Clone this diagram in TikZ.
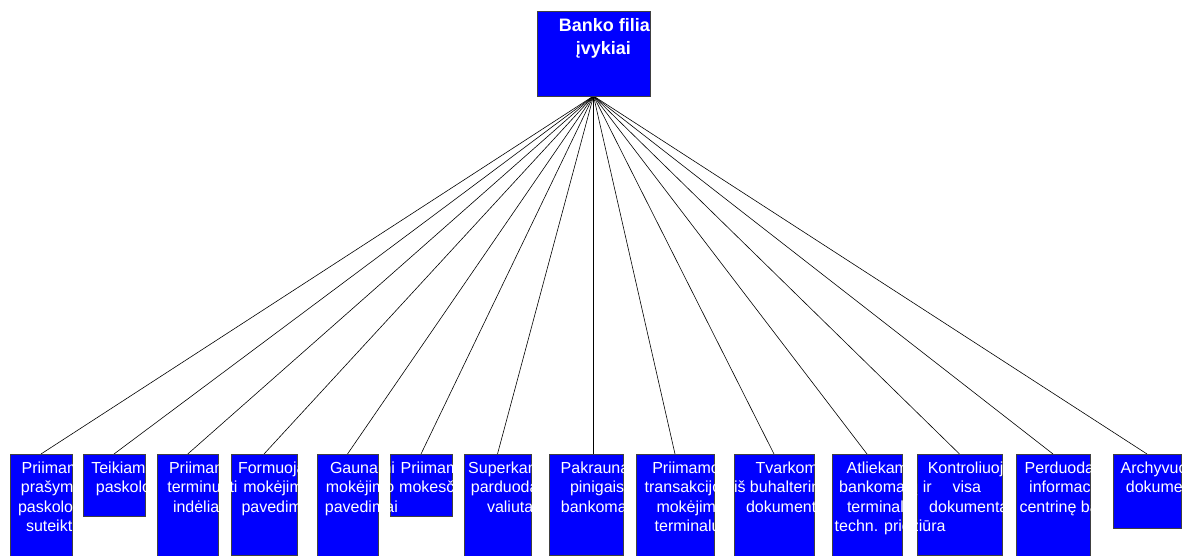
\documentclass[tikz,border=0pt]{standalone}
\usepackage{fontspec}
\usetikzlibrary{backgrounds}
\newfontfamily\arialf{Liberation Sans}
\definecolor{boxblue}{RGB}{0,0,255}
% one line of a label: indent, strut, words
\newcommand\rowtxt[2]{\hspace*{#1pt}\rule{0pt}{13pt}#2}
\newcommand\rowttl[2]{\hspace*{#1pt}\rule{0pt}{15pt}#2}
\begin{document}
\begin{tikzpicture}[x=1pt,y=-1pt,
  blk/.style={draw=black!75, line width=0.6pt, fill=boxblue, inner sep=0pt, outer sep=0pt, anchor=north west},
  lbl/.style={text=white, align=left, inner sep=0pt, outer sep=0pt, anchor=north west,
              font=\arialf\fontsize{16}{19.5}\selectfont},
  ttl/.style={text=white, align=left, inner sep=0pt, outer sep=0pt, anchor=north west,
              font=\arialf\bfseries\fontsize{18}{23}\selectfont},
  wire/.style={draw=black, line width=0.6pt}]
\path[use as bounding box] (0,0) rectangle (1182,556);
\clip (0,0) rectangle (1182,556);

% root
\node[blk, minimum width=113pt, minimum height=85pt] (top) at (537,11) {};
\node[ttl] (ttop) at (558.8,17) {\rowttl{0}{Banko filialo}\\\rowttl{17}{įvykiai}};

% leaves with their labels
\node[blk, minimum width=62pt, minimum height=104pt] (b1) at (10,454) {};
\node[lbl] (t1) at (16.5,460) {\rowtxt{5.2}{Priimami}\\\rowtxt{4.4}{prašymai}\\\rowtxt{1.5}{paskolos}\\\rowtxt{9.5}{suteikti}};

\node[blk, minimum width=62pt, minimum height=62pt] (b2) at (83,454) {};
\node[lbl] (t2) at (91.3,460) {\rowtxt{0}{Teikiamos}\\\rowtxt{4.6}{paskolos}};

\node[blk, minimum width=61.5pt, minimum height=104pt] (b3) at (157,454) {};
\node[blk, minimum width=66pt, minimum height=101pt] (b4) at (231,454) {};
\node[lbl] (t3) at (167.3,460) {\rowtxt{1.7}{Priimami}\\\rowtxt{0}{terminuoti}\\\rowtxt{5.7}{indėliai}};
\node[lbl] (t4) at (238,460) {\rowtxt{0}{Formuojami}\\\rowtxt{5.3}{mokėjimo}\\\rowtxt{3.5}{pavedimai}};

\node[blk, minimum width=61pt, minimum height=104pt] (b5) at (317,454) {};
\node[blk, minimum width=62pt, minimum height=62pt] (b6) at (390,454) {};
\node[lbl] (t5) at (324.9,460) {\rowtxt{5.1}{Gaunami}\\\rowtxt{1.0}{mokėjimo}\\\rowtxt{0}{pavedimai}};
\node[lbl] (t6) at (399.2,460) {\rowtxt{1.5}{Priimami}\\\rowtxt{0}{mokesčiai}};

\node[blk, minimum width=67pt, minimum height=104pt] (b7) at (464,454) {};
\node[lbl] (t7) at (468.2,460) {\rowtxt{0}{Superkama}\\\rowtxt{2.7}{parduodama}\\\rowtxt{18.8}{valiuta}};

\node[blk, minimum width=74pt, minimum height=101pt] (b8) at (549,454) {};
\node[lbl] (t8) at (560.7,460) {\rowtxt{0}{Pakraunami}\\\rowtxt{9.3}{pinigais}\\\rowtxt{0.2}{bankomatai}};

\node[blk, minimum width=78pt, minimum height=104pt] (b9) at (636,454) {};
\node[lbl] (t9) at (644.7,460) {\rowtxt{7.6}{Priimamos}\\\rowtxt{0}{transakcijos}\\\rowtxt{11.8}{mokėjimo}\\\rowtxt{10}{terminalų}};

\node[blk, minimum width=80pt, minimum height=104pt] (b10) at (734,454) {};
\node[lbl] (t10) at (734,460) {\rowtxt{21.6}{Tvarkomi}\\\rowtxt{0}{iš buhalterinių}\\\rowtxt{12}{dokumentai}};

\node[blk, minimum width=70pt, minimum height=104pt] (b11) at (832,454) {};
\node[blk, minimum width=85pt, minimum height=101pt] (b12) at (917,454) {};
\node[lbl] (t11) at (834.7,460) {\rowtxt{12}{Atliekama}\\\rowtxt{4.5}{bankomatų ir}\\\rowtxt{12.3}{terminalų}\\\rowtxt{0}{techn. priežiūra}};
\node[lbl] (t12) at (927.8,460) {\rowtxt{0}{Kontroliuojama}\\\rowtxt{24.8}{visa}\\\rowtxt{1.4}{dokumentacija}};

\node[blk, minimum width=74pt, minimum height=104pt] (b13) at (1016,454) {};
\node[lbl] (t13) at (1019.5,460) {\rowtxt{5.2}{Perduodama}\\\rowtxt{9.7}{informacija į}\\\rowtxt{0}{centrinę banką}};

\node[blk, minimum width=68pt, minimum height=74pt] (b14) at (1113,454) {};
\node[lbl] (t14) at (1120.7,460) {\rowtxt{0}{Archyvuojami}\\\rowtxt{5.2}{dokumentai}};

% connectors from the root to every leaf
\begin{scope}[on background layer]
  \foreach \b in {b1,b2,b3,b4,b5,b6,b7,b9,b10,b11,b12,b13,b14}
    \draw[wire] (top.south) -- (\b.north);
  \draw[wire] (top.south) -- (b8.north -| top.south);
\end{scope}
\end{tikzpicture}
\end{document}
